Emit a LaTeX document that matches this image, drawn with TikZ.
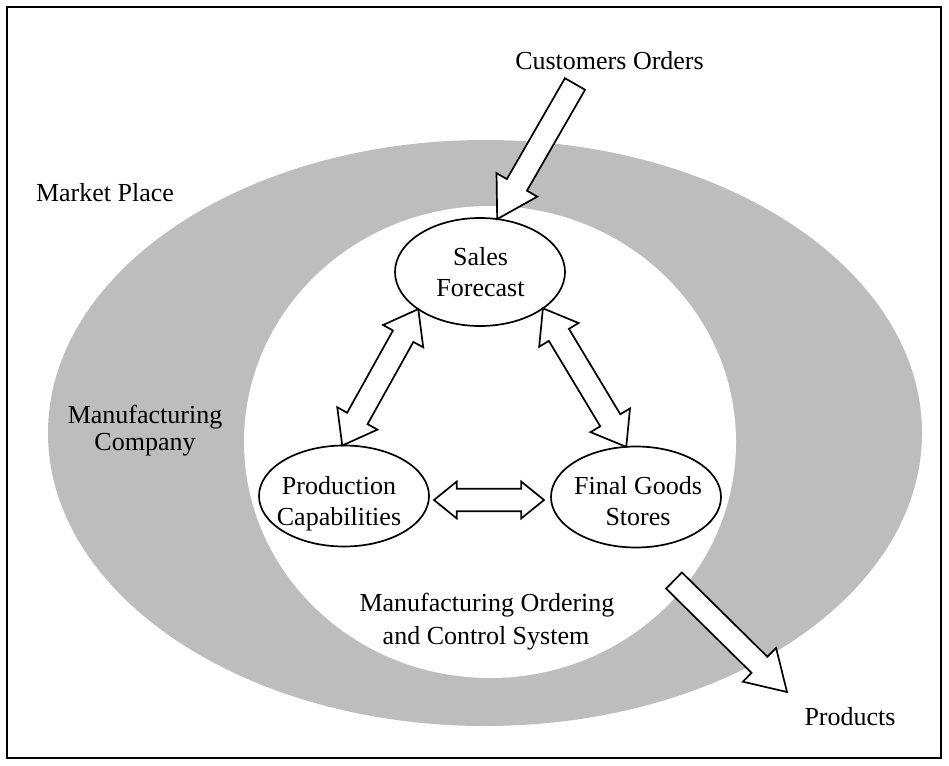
\documentclass[tikz,border=0pt]{standalone}
\usepackage{fontspec}
\setmainfont{Liberation Serif}
\usetikzlibrary{shapes.geometric,calc}
\definecolor{band}{gray}{0.74}
\tikzset{
  ell/.style={ellipse, draw, line width=1.7pt, fill=white, inner sep=0pt, outer sep=0pt},
  arrowline/.style={draw, line width=1.7pt, fill=white, line join=miter},
  lbl/.style={anchor=base, inner sep=0pt, font=\fontsize{26}{31}\selectfont},
  frameline/.style={draw, line width=1.3pt},
}
% block arrow: id, tail, tip, half shaft, half head, head length
\newcommand\blkarrow[6]{%
  \coordinate (#1n) at ($(#3)!#6!(#2)$);
  \draw[arrowline] ($(#2)!#4!90:(#3)$) -- ($(#1n)!#4!90:(#3)$) -- ($(#1n)!#5!90:(#3)$) -- (#3)
    -- ($(#1n)!#5!-90:(#3)$) -- ($(#1n)!#4!-90:(#3)$) -- ($(#2)!#4!-90:(#3)$) -- cycle;}
% double block arrow: id, end A, end B, half shaft, half head, head length
\newcommand\dblarrow[6]{%
  \coordinate (#1a) at ($(#2)!#6!(#3)$);
  \coordinate (#1b) at ($(#3)!#6!(#2)$);
  \draw[arrowline] (#2) -- ($(#1a)!#5!90:(#3)$) -- ($(#1a)!#4!90:(#3)$) -- ($(#1b)!#4!-90:(#2)$)
    -- ($(#1b)!#5!-90:(#2)$) -- (#3) -- ($(#1b)!#5!90:(#2)$) -- ($(#1b)!#4!90:(#2)$)
    -- ($(#1a)!#4!-90:(#3)$) -- ($(#1a)!#5!-90:(#3)$) -- cycle;}
\begin{document}
\begin{tikzpicture}[x=1pt,y=-1pt]
\useasboundingbox (0,0) rectangle (949,765);
% market band (manufacturing company)
\fill[band] (485,433) ellipse [x radius=437, y radius=293];
% manufacturing ordering and control system
\fill[white] (490,442) ellipse [x radius=246, y radius=236];
\draw[frameline] (7,7) rectangle (941,758);
% nodes
\node[ell, minimum width=170pt, minimum height=108pt] (sf) at (480,272) {};
\node[ell, minimum width=170pt, minimum height=101pt] (pc) at (344,496) {};
\node[ell, minimum width=170pt, minimum height=101pt] (fg) at (636,497) {};
% connectors
\coordinate (cotail) at (575,84);
\coordinate (prtail) at (674,580.5);
\coordinate (prtip) at (787,692);
\blkarrow{ca}{cotail}{sf.72}{11.6pt}{23.5pt}{39.5pt}
\blkarrow{pa}{prtail}{prtip}{11.3pt}{23.7pt}{38.7pt}
\dblarrow{la}{sf.211.6}{pc.92.6}{11.7pt}{23pt}{31pt}
\dblarrow{ra}{sf.330.9}{fg.101}{11.7pt}{23pt}{31pt}
\coordinate (hl) at ($(pc.east)+(5,4)$);
\coordinate (hr) at ($(fg.west)+(-7,3)$);
\dblarrow{ha}{hl}{hr}{11.2pt}{18.4pt}{22.7pt}
% texts
\node[lbl] (co) at (609.5,70) {Customers Orders};
\node[lbl] (mp) at (105,201.5) {Market Place};
\node[lbl] (mc1) at (145,423) {Manufacturing};
\node[lbl] (mc2) at (145,450) {Company};
\node[lbl] (sf1) at (480.5,265) {Sales};
\node[lbl] (sf2) at (480.5,296) {Forecast};
\node[lbl] (pc1) at (339,494) {Production};
\node[lbl] (pc2) at (339,525) {Capabilities};
\node[lbl] (fg1) at (638,494) {Final Goods};
\node[lbl] (fg2) at (638,525) {Stores};
\node[lbl] (mo1) at (487,611) {Manufacturing Ordering};
\node[lbl] (mo2) at (486,644) {and Control System};
\node[lbl] (pr) at (850,725) {Products};
\end{tikzpicture}
\end{document}
